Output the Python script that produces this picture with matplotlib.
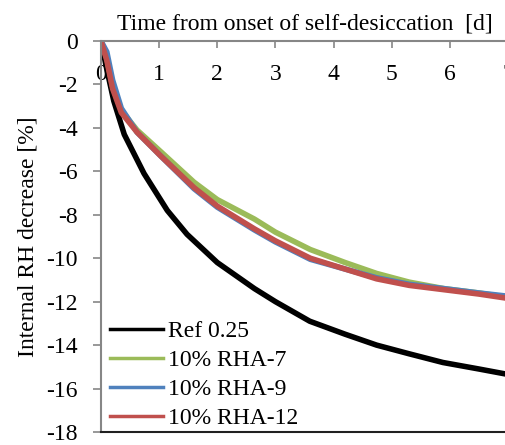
import matplotlib
matplotlib.use('Agg')
import matplotlib.pyplot as plt

plt.rcParams['font.family'] = ['Liberation Serif', 'DejaVu Serif']
plt.rcParams['axes.unicode_minus'] = False

# time from onset of self-desiccation [d]
t_ref = [0, 0.1, 0.22, 0.4, 0.74, 1.14, 1.48, 2.0, 2.64, 3.0, 3.59, 4.2, 4.74, 5.3, 5.88, 6.5, 7.0]
rh_ref = [0, -1.3, -2.76, -4.3, -6.1, -7.8, -8.9, -10.2, -11.4, -12.0, -12.9, -13.5, -14.0, -14.4, -14.8, -15.1, -15.35]

t_rha = [0, 0.1, 0.2, 0.35, 0.62, 1.03, 1.6, 2.0, 2.64, 3.0, 3.6, 4.2, 4.74, 5.3, 5.9, 6.5, 7.0]
rh_rha7 = [0, -0.8, -2.1, -3.2, -4.1, -5.1, -6.5, -7.3, -8.2, -8.8, -9.6, -10.2, -10.7, -11.1, -11.4, -11.6, -11.8]
rh_rha9 = [0, -0.5, -1.8, -3.1, -4.2, -5.3, -6.8, -7.65, -8.7, -9.25, -10.05, -10.5, -10.9, -11.2, -11.4, -11.6, -11.75]
rh_rha12 = [0, -0.9, -2.2, -3.3, -4.2, -5.3, -6.75, -7.6, -8.65, -9.2, -10.0, -10.5, -10.95, -11.25, -11.45, -11.65, -11.85]

fs = 17

fig = plt.figure(figsize=(5.06, 4.45), dpi=100)
ax = fig.add_axes([101 / 506, 1 - 432 / 445, 407 / 506, 391 / 445])

lw = 4
ax.plot(t_ref, rh_ref, color='black', lw=lw, label='Ref 0.25')
ax.plot(t_rha, rh_rha7, color='#9BBB59', lw=lw, label='10% RHA-7')
ax.plot(t_rha, rh_rha9, color='#4F81BD', lw=lw, label='10% RHA-9')
ax.plot(t_rha, rh_rha12, color='#C0504D', lw=lw, label='10% RHA-12')

ax.set_xlim(0, 7)
ax.set_ylim(-18, 0)
ax.set_xticks(range(0, 8))
ax.set_yticks(range(-18, 1, 2))

ax.xaxis.set_ticks_position('top')
ax.xaxis.set_label_position('top')
ax.tick_params(axis='x', direction='in', length=5, width=1.2, color='#868686', pad=-31.5, labelsize=fs)
ax.tick_params(axis='y', direction='out', length=6, width=1.2, color='#868686', pad=11, labelsize=fs)

for s in ['top', 'left']:
  ax.spines[s].set_color('#868686')
  ax.spines[s].set_linewidth(1.5)
ax.spines['bottom'].set_color('#202020')
ax.spines['bottom'].set_linewidth(1.5)
ax.spines['right'].set_visible(False)

ax.set_xlabel('Time from onset of self-desiccation  [d]', fontsize=fs, labelpad=8)
ax.set_ylabel('Internal RH decrease [%]', fontsize=fs, labelpad=5)

leg = ax.legend(loc='lower left', frameon=False, fontsize=fs, handlelength=2.25,
                handletextpad=0.2, labelspacing=0.31, borderpad=0, borderaxespad=0,
                bbox_to_anchor=(9 / 407, 3 / 391))
for line in leg.get_lines():
  line.set_linewidth(2.5)

fig.savefig('out.png', dpi=100)
